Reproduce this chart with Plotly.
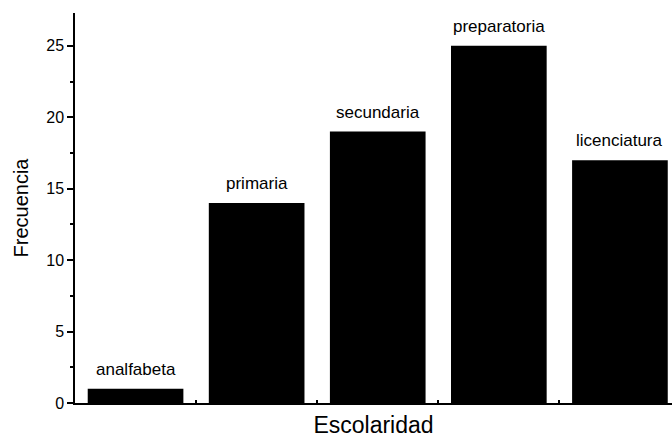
import plotly.graph_objects as go

categories = ["analfabeta", "primaria", "secundaria", "preparatoria", "licenciatura"]
frecuencia = [1, 14, 19, 25, 17]
y_ticks = [0, 5, 10, 15, 20, 25]
y_minor = [2.5, 7.5, 12.5, 17.5, 22.5]
x_bounds = [0.5, 1.5, 2.5, 3.5]

xpos = list(range(len(categories)))
FONT = "Liberation Sans, Arial, Helvetica"

fig = go.Figure()
fig.add_trace(go.Bar(
    x=xpos, y=frecuencia, width=0.79,
    marker=dict(color="black", line=dict(width=0)),
    hoverinfo="skip",
))

for xi, yi, lab in zip(xpos, frecuencia, categories):
    fig.add_annotation(
        x=xi, y=yi, text=lab, showarrow=False,
        yanchor="bottom", xanchor="center", yshift=8,
        font=dict(family=FONT, size=17, color="black"),
    )

fig.update_layout(
    width=672, height=442,
    margin=dict(l=75, r=0, t=13, b=39),
    plot_bgcolor="white", paper_bgcolor="white",
    showlegend=False,
    font=dict(family=FONT, color="black"),
    xaxis=dict(
        range=[-0.5, 4.43], showgrid=False, zeroline=False,
        showline=True, linecolor="black", linewidth=1.5,
        tickvals=x_bounds, ticktext=[""] * len(x_bounds),
        ticks="outside", ticklen=6, tickcolor="black", tickwidth=1.5,
        minor=dict(tickvals=x_bounds, ticks="inside", ticklen=3, tickcolor="black", tickwidth=1.5),
        title=dict(text="Escolaridad", font=dict(size=23), standoff=5),
    ),
    yaxis=dict(
        range=[0, 27.3], showgrid=False, zeroline=False,
        showline=True, linecolor="black", linewidth=1.5,
        tickvals=y_ticks, ticks="outside", ticklen=6, tickwidth=1.5, tickcolor="black",
        tickfont=dict(size=16),
        minor=dict(tickvals=y_minor, ticks="outside", ticklen=3, tickcolor="black"),
        title=dict(text="Frecuencia", font=dict(size=20), standoff=12),
    ),
)

fig.write_html("out.html", config={"displayModeBar": False},
               post_script="document.body.style.margin='0';")
